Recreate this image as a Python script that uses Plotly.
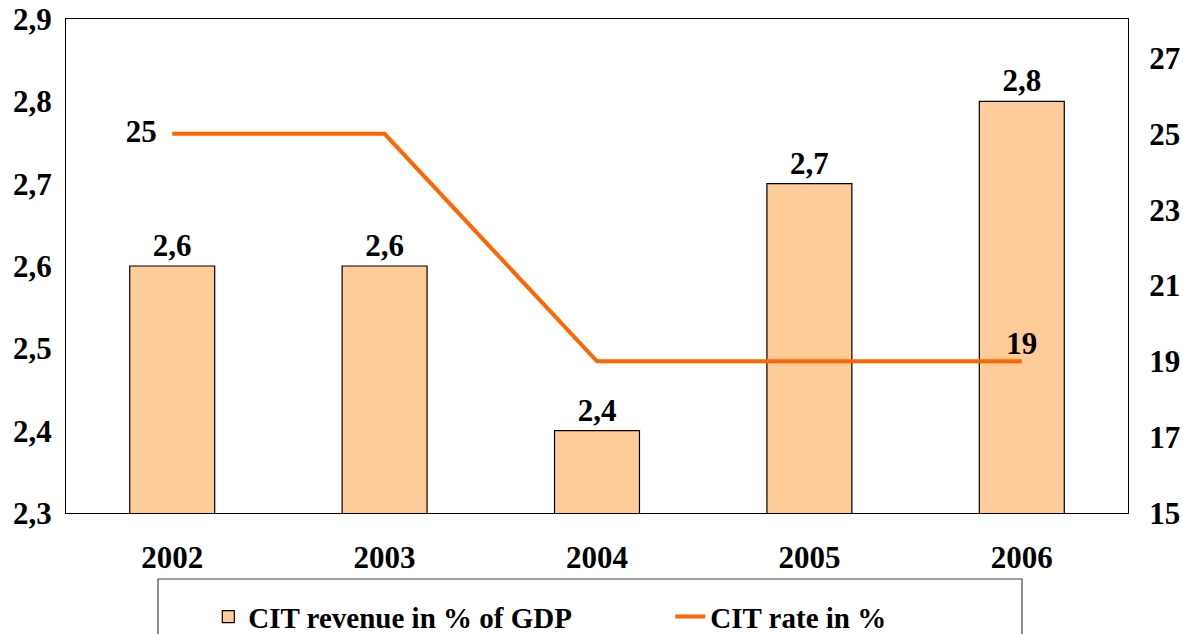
import plotly.graph_objects as go

years = ["2002", "2003", "2004", "2005", "2006"]
cit_revenue = [2.6, 2.6, 2.4, 2.7, 2.8]
cit_rate = [25, 25, 19, 19, 19]
rate_labels = ["25\u00a0\u00a0", "", "", "", "19"]
rate_label_pos = ["middle left", "top center", "top center", "top center", "top center"]
left_ticks = [2.3, 2.4, 2.5, 2.6, 2.7, 2.8, 2.9]
right_ticks = [15, 17, 19, 21, 23, 25, 27]

FONT = "Liberation Serif"

fig = go.Figure()
fig.add_trace(go.Bar(
    x=years, y=cit_revenue, name="CIT revenue in % of GDP",
    marker=dict(color="#FFCC99", line=dict(color="#000000", width=1.2)),
    width=0.4,
    texttemplate="%{y:.1f}", textposition="outside",
    textfont=dict(family=FONT, size=31, color="#000000", weight="bold"),
    cliponaxis=False,
))
fig.add_trace(go.Scatter(
    x=years, y=cit_rate, name="CIT rate in %", yaxis="y2",
    mode="lines+text", line=dict(color="#FF6600", width=4),
    text=rate_labels, textposition=rate_label_pos,
    textfont=dict(family=FONT, size=31, color="#000000", weight="bold"),
    cliponaxis=False,
))

fig.update_layout(
    width=1183, height=634,
    margin=dict(l=66, r=55, t=19, b=121, autoexpand=False),
    paper_bgcolor="white", plot_bgcolor="white",
    separators=",.",
    font=dict(family=FONT, size=31, color="#000000", weight="bold"),
    bargap=0.6,
    showlegend=True,
    legend=dict(
        orientation="h", x=0.134, xanchor="left", y=-0.21, yanchor="middle",
        font=dict(family=FONT, size=29, color="#000000", weight="bold"),
        bgcolor="rgba(0,0,0,0)", borderwidth=0,
        entrywidth=417, entrywidthmode="pixels",
    ),
    xaxis=dict(
        showline=True, linecolor="#000000", linewidth=1.2, mirror=True,
        showgrid=False, ticks="", ticklabelstandoff=17, automargin=False,
        tickfont=dict(family=FONT, size=31, color="#000000", weight="bold"),
    ),
    yaxis=dict(
        range=[2.3, 2.9], tickvals=left_ticks, tickformat=".1f",
        showline=True, linecolor="#000000", linewidth=1.2, automargin=False,
        showgrid=False, zeroline=False, ticks="", ticklabelstandoff=7,
        ticklabeloverflow="allow",
        tickfont=dict(family=FONT, size=31, color="#000000", weight="bold"),
    ),
    yaxis2=dict(
        range=[15, 28.03], tickvals=right_ticks, overlaying="y", side="right",
        showline=True, linecolor="#000000", linewidth=1.2, automargin=False,
        showgrid=False, zeroline=False, ticks="", ticklabelstandoff=14,
        ticklabeloverflow="allow",
        tickfont=dict(family=FONT, size=31, color="#000000", weight="bold"),
    ),
    shapes=[dict(
        type="rect", xref="paper", yref="paper",
        x0=(158 - 66) / 1062, x1=(1022 - 66) / 1062,
        y0=(513 - 660) / 494, y1=(513 - 579) / 494,
        line=dict(color="#444444", width=1.2), fillcolor="rgba(0,0,0,0)",
        layer="below",
    )],
)

fig.write_html(
    "out.html",
    config={"displayModeBar": False},
    post_script="document.body.style.margin='0';document.body.style.overflow='hidden';",
)
